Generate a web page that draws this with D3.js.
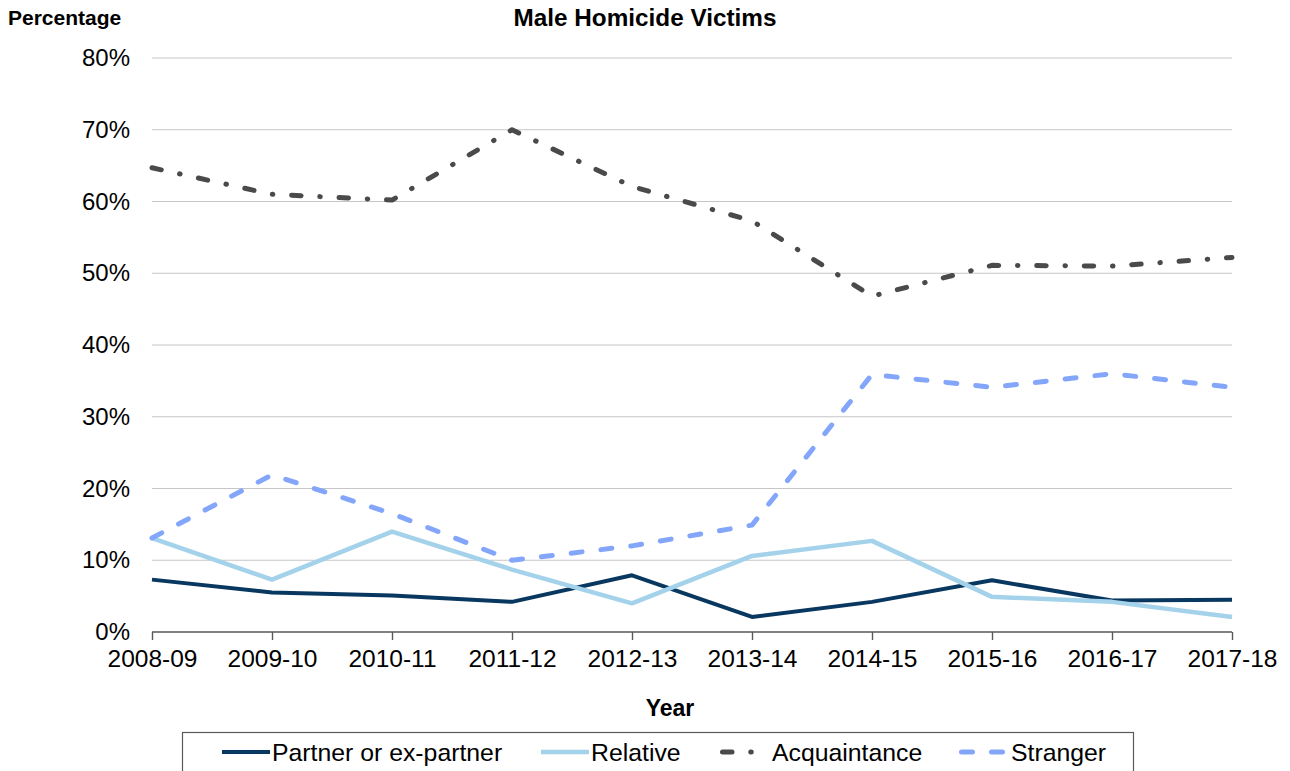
<!DOCTYPE html>
<html>
<head>
<meta charset="utf-8">
<script src="https://cdn.jsdelivr.net/npm/d3@7"></script>
<style>
  body { margin: 0; background: #fff; }
  text { font-family: "Liberation Sans", Arial, sans-serif; fill: #000; }
</style>
</head>
<body>
<script>
// data
const years = ["2008-09", "2009-10", "2010-11", "2011-12", "2012-13",
               "2013-14", "2014-15", "2015-16", "2016-17", "2017-18"];
const partner      = [7.3, 5.5, 5.1, 4.2, 7.9, 2.1, 4.2, 7.2, 4.4, 4.5];
const relative     = [13.1, 7.3, 14.0, 8.7, 4.0, 10.6, 12.7, 4.9, 4.2, 2.1];
const acquaintance = [64.7, 61.0, 60.2, 70.0, 62.1, 57.3, 46.8, 51.1, 51.0, 52.2];
const stranger     = [13.1, 21.9, 16.5, 10.0, 12.0, 14.9, 35.9, 34.1, 36.0, 34.1];
const yTicks = [0, 10, 20, 30, 40, 50, 60, 70, 80];

const series = [
  { name: "Partner or ex-partner", values: partner, color: "#08375f", width: 4, dash: null },
  { name: "Relative", values: relative, color: "#a3d2ea", width: 4.5, dash: null },
  { name: "Acquaintance", values: acquaintance, color: "#4a4a4a", width: 5, dash: "9.5,18.75,0.5,18.75" },
  { name: "Stranger", values: stranger, color: "#84a6fa", width: 5, dash: "11,19" }
];

const width = 1290, height = 771;
const svg = d3.select("body").append("svg")
  .attr("width", width)
  .attr("height", height);

const x = d3.scalePoint().domain(years).range([152, 1232]);
const y = d3.scaleLinear().domain([0, 80]).range([632, 58]);

// gridlines
svg.append("g")
  .selectAll("line")
  .data(yTicks.filter(d => d > 0))
  .enter().append("line")
  .attr("x1", 152).attr("x2", 1232)
  .attr("y1", d => y(d)).attr("y2", d => y(d))
  .attr("stroke", "#c6c6c6")
  .attr("stroke-width", 1);

// y axis labels (no axis line)
const yAxis = svg.append("g")
  .attr("transform", "translate(152,0)")
  .call(d3.axisLeft(y).tickValues(yTicks).tickFormat(d => d + "%").tickSize(0).tickPadding(22));
yAxis.select(".domain").remove();
yAxis.selectAll("text")
  .style("font-family", "'Liberation Sans', Arial, sans-serif")
  .style("font-size", "24px")
  .attr("fill", "#000");

// x axis
const xAxis = svg.append("g")
  .attr("transform", "translate(0,632)")
  .call(d3.axisBottom(x).tickSize(8).tickPadding(10));
xAxis.select(".domain").attr("stroke", "#595959").attr("stroke-width", 1.4)
  .attr("d", "M152,0H1232");
xAxis.selectAll(".tick line").attr("stroke", "#595959").attr("stroke-width", 1.4);
xAxis.selectAll("text")
  .style("font-family", "'Liberation Sans', Arial, sans-serif")
  .style("font-size", "24.5px")
  .attr("fill", "#000");

// lines
const line = d3.line()
  .x((d, i) => x(years[i]))
  .y(d => y(d));

svg.append("g")
  .selectAll("path")
  .data(series)
  .enter().append("path")
  .attr("d", d => line(d.values))
  .attr("fill", "none")
  .attr("stroke", d => d.color)
  .attr("stroke-width", d => d.width)
  .attr("stroke-dasharray", d => d.dash)
  .attr("stroke-linecap", d => d.dash ? "round" : "butt")
  .attr("stroke-linejoin", "round");

// titles
svg.append("text")
  .attr("x", 645).attr("y", 26)
  .attr("text-anchor", "middle")
  .style("font-size", "24.3px").style("font-weight", "bold")
  .text("Male Homicide Victims");

svg.append("text")
  .attr("x", 8).attr("y", 25)
  .style("font-size", "21px").style("font-weight", "bold")
  .text("Percentage");

svg.append("text")
  .attr("x", 670).attr("y", 716)
  .attr("text-anchor", "middle")
  .style("font-size", "23px").style("font-weight", "bold")
  .text("Year");

// legend
svg.append("rect")
  .attr("x", 182.5).attr("y", 732.5)
  .attr("width", 951).attr("height", 50)
  .attr("fill", "none")
  .attr("stroke", "#595959")
  .attr("stroke-width", 1.2);

const legendX = [222, 541, 720, 959];
const legend = svg.append("g")
  .selectAll("g")
  .data(series)
  .enter().append("g")
  .attr("transform", (d, i) => `translate(${legendX[i]},752)`);

legend.append("line")
  .attr("x1", d => d.dash ? 2.5 : 0).attr("x2", 48)
  .attr("y1", 0).attr("y2", 0)
  .attr("stroke", d => d.color)
  .attr("stroke-width", d => d.width)
  .attr("stroke-dasharray", d => d.dash)
  .attr("stroke-linecap", d => d.dash ? "round" : "butt");

legend.append("text")
  .attr("x", (d, i) => i < 2 ? 50 : 52)
  .attr("y", 8.5)
  .style("font-size", "24.8px")
  .text(d => d.name);
</script>
</body>
</html>
